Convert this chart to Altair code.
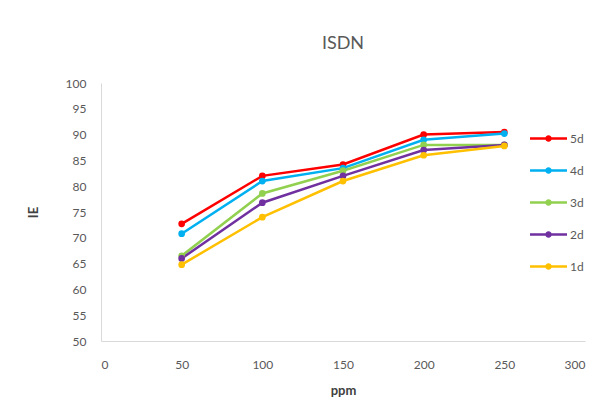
import altair as alt
import pandas as pd

ppm = [50, 100, 150, 200, 250]
series_names = ["5d", "4d", "3d", "2d", "1d"]
ie_5d = [72.7, 82.0, 84.2, 90.0, 90.5]
ie_4d = [70.8, 81.0, 83.5, 89.0, 90.2]
ie_3d = [66.5, 78.6, 83.0, 88.0, 88.0]
ie_2d = [66.0, 76.8, 82.0, 87.0, 88.0]
ie_1d = [64.8, 74.0, 81.0, 86.0, 87.8]
colors = ["#FF0000", "#00B0F0", "#92D050", "#7030A0", "#FFC000"]

rows = []
for name, vals in zip(series_names, [ie_5d, ie_4d, ie_3d, ie_2d, ie_1d]):
    for x, v in zip(ppm, vals):
        rows.append({"ppm": x, "IE": v, "series": name})
df = pd.DataFrame(rows)

legend_symbol = "M-2,0H2M0.22,0A0.22,0.22 0 1,1 -0.22,0A0.22,0.22 0 1,1 0.22,0Z"

chart = alt.Chart(df).mark_line(
    strokeWidth=2.5,
    point=alt.OverlayMarkDef(filled=True, size=45, opacity=1),
).encode(
    x=alt.X("ppm:Q", title="ppm",
            scale=alt.Scale(domain=[0, 300], nice=False),
            axis=alt.Axis(values=[0, 50, 100, 150, 200, 250, 300], grid=False, ticks=False)),
    y=alt.Y("IE:Q", title="IE",
            scale=alt.Scale(domain=[50, 100], nice=False, zero=False),
            axis=alt.Axis(values=list(range(50, 101, 5)), grid=False, ticks=False)),
    color=alt.Color("series:N",
                    scale=alt.Scale(domain=series_names, range=colors),
                    legend=alt.Legend(
                        title=None, orient="none", legendX=437, legendY=45,
                        symbolType=legend_symbol, symbolSize=342,
                        symbolStrokeWidth=2.5, rowPadding=14,
                        labelFontSize=12, labelColor="#595959",
                        labelFont="Lato", labelOffset=11,
                    )),
    order="ppm:Q",
).properties(
    width=484, height=258,
    background="white",
    title=alt.TitleParams("ISDN", fontSize=18, font="Lato", fontWeight="normal",
                          color="#595959", offset=24, anchor="middle"),
    autosize=alt.AutoSizeParams(type="none"),
    padding={"left": 93, "top": 75, "right": 20, "bottom": 69},
).configure_view(
    stroke=None
).configure_axis(
    grid=False, ticks=False, domainColor="#D9D9D9", domainWidth=1,
    labelColor="#595959", labelFont="Lato", labelFontSize=12,
    titleColor="#404040", titleFont="Lato", titleFontSize=13, titleFontWeight="bold",
).configure_axisX(
    labelPadding=18, titlePadding=14,
).configure_axisY(
    labelPadding=15, titlePadding=25,
).configure_legend(
    labelColor="#595959", labelFont="Lato", labelFontSize=12,
)

chart.save("out.html", embed_options={"renderer": "svg", "actions": False})
